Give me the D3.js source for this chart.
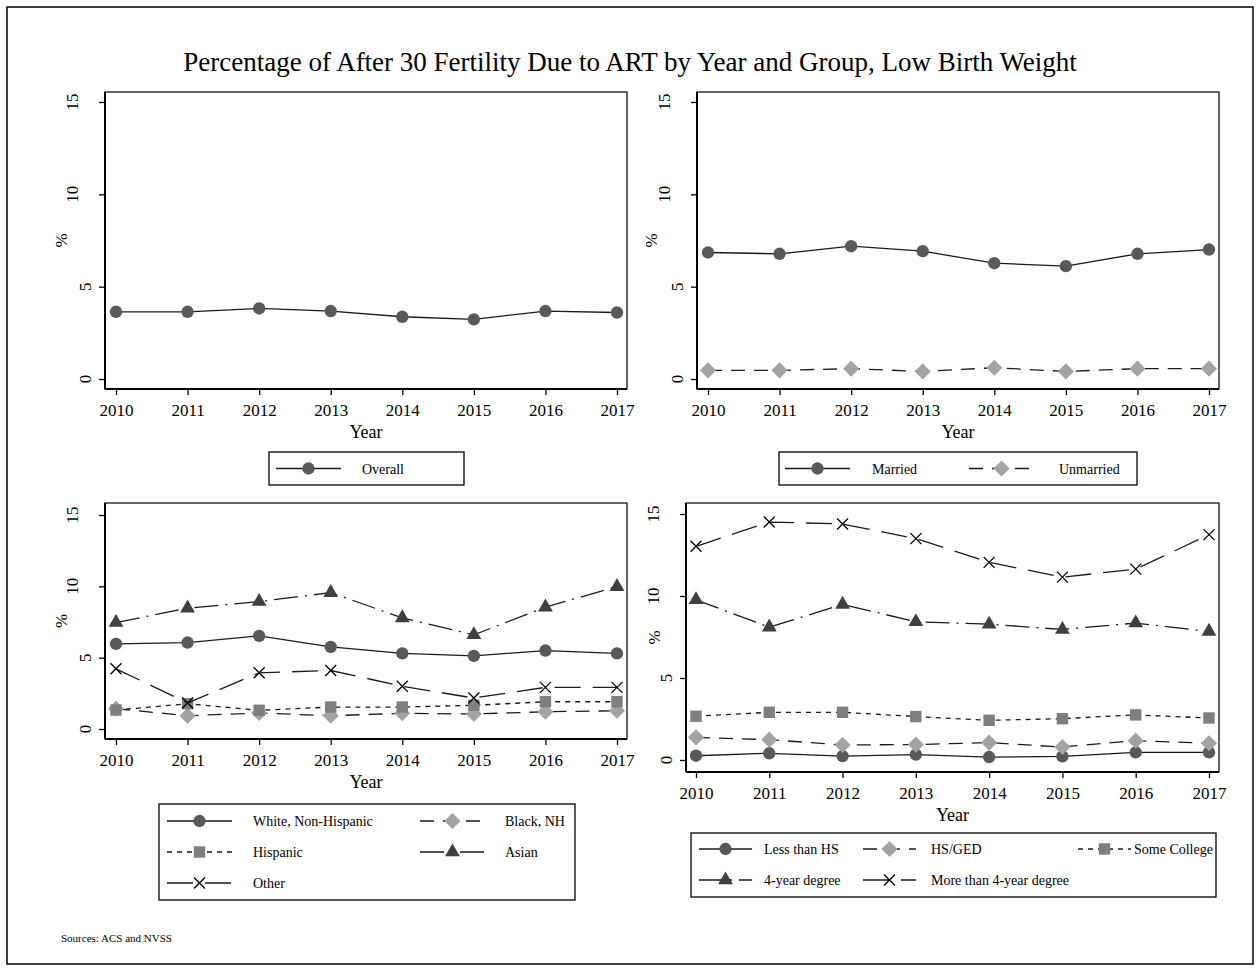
<!DOCTYPE html>
<html>
<head>
<meta charset="utf-8">
<script src="https://cdn.jsdelivr.net/npm/d3@7"></script>
<style>
  body{margin:0;background:#fff}
  svg{display:block;font-family:"Liberation Serif","Times New Roman",serif}
</style>
</head>
<body>
<svg id="chart" width="1260" height="971"></svg>
<script>
// data
const years = [2010,2011,2012,2013,2014,2015,2016,2017];
const yTicks = [0,5,10,15];

const overall   = [3.64,3.64,3.82,3.68,3.37,3.23,3.68,3.60];

const married   = [6.85,6.78,7.19,6.92,6.27,6.11,6.78,7.01];
const unmarried = [0.47,0.47,0.56,0.41,0.61,0.41,0.56,0.56];

const white     = [5.97,6.06,6.53,5.76,5.30,5.13,5.50,5.30];
const blackNH   = [1.42,0.93,1.12,0.93,1.10,1.05,1.21,1.28];
const hispanic  = [1.33,1.77,1.31,1.54,1.54,1.66,1.91,1.91];
const asian     = [7.46,8.47,8.93,9.56,7.79,6.60,8.54,9.98];
const other     = [4.22,1.82,3.94,4.10,3.00,2.17,2.92,2.92];

const lessHS      = [0.26,0.41,0.24,0.33,0.18,0.22,0.47,0.47];
const hsGed       = [1.38,1.24,0.92,0.94,1.06,0.79,1.18,1.02];
const someCollege = [2.67,2.91,2.91,2.65,2.42,2.52,2.75,2.56];
const fourYear    = [9.77,8.10,9.49,8.43,8.28,7.96,8.35,7.84];
const moreFour    = [13.03,14.51,14.39,13.50,12.05,11.15,11.64,13.74];

const title = "Percentage of After 30 Fertility Due to ART by Year and Group, Low Birth Weight";

const panelSeries = [
  [{name:"Overall", values:overall, mark:"circle"}],
  [{name:"Married", values:married, mark:"circle"},
   {name:"Unmarried", values:unmarried, mark:"diamond"}],
  [{name:"White, Non-Hispanic", values:white, mark:"circle"},
   {name:"Black, NH", values:blackNH, mark:"diamond"},
   {name:"Hispanic", values:hispanic, mark:"square"},
   {name:"Asian", values:asian, mark:"triangle"},
   {name:"Other", values:other, mark:"cross"}],
  [{name:"Less than HS", values:lessHS, mark:"circle"},
   {name:"HS/GED", values:hsGed, mark:"diamond"},
   {name:"Some College", values:someCollege, mark:"square"},
   {name:"4-year degree", values:fourYear, mark:"triangle"},
   {name:"More than 4-year degree", values:moreFour, mark:"cross"}]
];

// layout of the four panels (pixels)
const layout = [
  {left:105, right:627, top:92, bottom:389, y0:379, y15:102, x0:116, x1:617, pctX:61,
   legend:{box:[269,452,464,485], lineLen:65, items:[[276,468.5,362]]}},
  {left:697, right:1219, top:92, bottom:389, y0:379, y15:102, x0:708, x1:1209, pctX:651,
   legend:{box:[779,452,1137,485], lineLen:65, items:[[785,468.5,872],[969,468.5,1059]]}},
  {left:105, right:627, top:503, bottom:739, y0:729, y15:515, x0:116, x1:617, pctX:61,
   legend:{box:[159,804,575,900], lineLen:65,
     items:[[167,821,253],[420,821,505],[167,852,253],[420,852,505],[167,883,253]]}},
  {left:686, right:1219, top:503, bottom:772, y0:760, y15:514, x0:696, x1:1209, pctX:654,
   legend:{box:[691,833,1216,897], lineLen:53,
     items:[[699,849,764],[863,849,931],[1078,849,1134],[699,880,764],[863,880,931]]}}
];

const markStyle = {
  circle:  {fill:"#595959", dash:null},
  diamond: {fill:"#a3a3a3", dash:"14,9"},
  square:  {fill:"#7f7f7f", dash:"5,5"},
  triangle:{fill:"#3f3f3f", dash:"24,7,2,7"},
  cross:   {fill:"none",    dash:"26,12"}
};

function markerPath(type){
  if(type==="circle") return d3.symbol(d3.symbolCircle, 120)();
  if(type==="square") return d3.symbol(d3.symbolSquare, 130)();
  if(type==="diamond") return d3.symbol(d3.symbolSquare, 130)();
  if(type==="triangle") return d3.symbol(d3.symbolTriangle, 95)();
  return "M-5.5,-5.5L5.5,5.5M-5.5,5.5L5.5,-5.5";
}

function drawMarker(g, type, x, y){
  const p = g.append("path")
    .attr("d", markerPath(type))
    .attr("transform", `translate(${x},${y})` + (type==="diamond" ? " rotate(45)" : ""));
  if(type==="cross") p.attr("fill","none").attr("stroke","#000").attr("stroke-width",1.3);
  else p.attr("fill", markStyle[type].fill);
}

const svg = d3.select("#chart");

svg.append("rect")
  .attr("x",7).attr("y",7).attr("width",1246).attr("height",957)
  .attr("fill","none").attr("stroke","#000").attr("stroke-width",1.5);

svg.append("text")
  .attr("x",630).attr("y",71)
  .attr("text-anchor","middle")
  .attr("font-size",27)
  .text(title);

layout.forEach((L, pi)=>{
  const g = svg.append("g");
  const x = d3.scaleLinear().domain([2010,2017]).range([L.x0, L.x1]);
  const y = d3.scaleLinear().domain([0,15]).range([L.y0, L.y15]);

  // plot frame
  g.append("rect")
    .attr("x",L.left).attr("y",L.top)
    .attr("width",L.right-L.left).attr("height",L.bottom-L.top)
    .attr("fill","none").attr("stroke","#000").attr("stroke-width",1.2);
  g.append("line").attr("x1",L.left).attr("x2",L.right).attr("y1",L.bottom).attr("y2",L.bottom)
    .attr("stroke","#000").attr("stroke-width",2);
  g.append("line").attr("x1",L.left).attr("x2",L.left).attr("y1",L.top).attr("y2",L.bottom)
    .attr("stroke","#000").attr("stroke-width",2);

  // x axis
  const xa = g.append("g")
    .attr("transform",`translate(0,${L.bottom})`)
    .call(d3.axisBottom(x).tickValues(years).tickFormat(d3.format("d")).tickSize(6).tickSizeOuter(0));
  xa.select(".domain").remove();
  xa.selectAll(".tick line").attr("stroke","#000").attr("stroke-width",1.3);
  xa.selectAll(".tick text")
    .attr("y",15).attr("font-size",17)
    .attr("font-family","Liberation Serif").attr("fill","#000");

  // y axis, labels rotated like Stata's
  const ya = g.append("g")
    .attr("transform",`translate(${L.left},0)`)
    .call(d3.axisLeft(y).tickValues(yTicks).tickSize(6).tickSizeOuter(0));
  ya.select(".domain").remove();
  ya.selectAll(".tick line").attr("stroke","#000").attr("stroke-width",1.3);
  ya.selectAll(".tick text").remove();
  yTicks.forEach(t=>{
    const s = String(t);
    const cx = L.left - 7 - 13*s.length;
    g.append("text")
      .attr("transform",`translate(${cx+5.5},${y(t)}) rotate(-90)`)
      .attr("text-anchor","middle")
      .attr("font-size",17)
      .text(s);
  });

  // axis titles
  g.append("text")
    .attr("transform",`translate(${L.pctX+6},${(L.top+L.bottom)/2}) rotate(-90)`)
    .attr("text-anchor","middle").attr("font-size",17)
    .text("%");
  g.append("text")
    .attr("x",(L.left+L.right)/2).attr("y",L.bottom+49)
    .attr("text-anchor","middle").attr("font-size",18)
    .text("Year");

  // series
  const line = d3.line().x((d,i)=>x(years[i])).y(d=>y(d));
  panelSeries[pi].forEach(s=>{
    const st = markStyle[s.mark];
    g.append("path")
      .datum(s.values)
      .attr("d", line)
      .attr("fill","none")
      .attr("stroke","#1a1a1a")
      .attr("stroke-width",1.3)
      .attr("stroke-dasharray", st.dash);
    s.values.forEach((v,i)=> drawMarker(g, s.mark, x(years[i]), y(v)));
  });

  // legend
  const lg = L.legend;
  g.append("rect")
    .attr("x",lg.box[0]).attr("y",lg.box[1])
    .attr("width",lg.box[2]-lg.box[0]).attr("height",lg.box[3]-lg.box[1])
    .attr("fill","#fff").attr("stroke","#000").attr("stroke-width",1.3);
  panelSeries[pi].forEach((s,i)=>{
    const [lx, ry, tx] = lg.items[i];
    const st = markStyle[s.mark];
    g.append("line")
      .attr("x1",lx).attr("x2",lx+lg.lineLen).attr("y1",ry).attr("y2",ry)
      .attr("stroke","#1a1a1a").attr("stroke-width",1.3)
      .attr("stroke-dasharray", st.dash);
    drawMarker(g, s.mark, lx+lg.lineLen/2, ry);
    g.append("text")
      .attr("x",tx).attr("y",ry+5)
      .attr("font-size",14)
      .text(s.name);
  });
});

svg.append("text")
  .attr("x",61).attr("y",942)
  .attr("font-size",11)
  .text("Sources: ACS and NVSS");
</script>
</body>
</html>
